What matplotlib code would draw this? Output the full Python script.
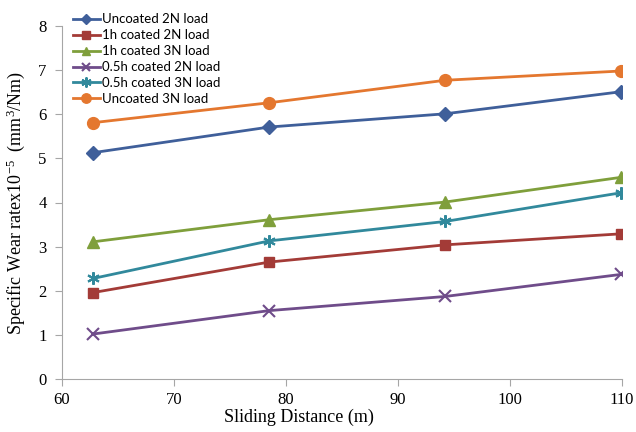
import matplotlib
matplotlib.use('Agg')
import matplotlib.pyplot as plt

# Sliding distance (m) and specific wear rate x10^-5 (mm^3/Nm)
distance = [62.8, 78.5, 94.2, 109.9]
uncoated_2n = [5.13, 5.71, 6.01, 6.51]
coated1h_2n = [1.96, 2.65, 3.04, 3.29]
coated1h_3n = [3.11, 3.61, 4.01, 4.57]
coated05h_2n = [1.02, 1.55, 1.87, 2.37]
coated05h_3n = [2.28, 3.13, 3.57, 4.22]
uncoated_3n = [5.81, 6.26, 6.77, 6.98]

series = [
    ('Uncoated 2N load', uncoated_2n, '#3F5F9A', 'D', 7),
    ('1h coated 2N load', coated1h_2n, '#A33B37', 's', 7.5),
    ('1h coated 3N load', coated1h_3n, '#7F9F3B', '^', 8),
    ('0.5h coated 2N load', coated05h_2n, '#6F4C8A', 'x', 8),
    ('0.5h coated 3N load', coated05h_3n, '#31899C', (6, 2, 0), 9),
    ('Uncoated 3N load', uncoated_3n, '#E4772F', 'o', 8.5),
]

plt.rcParams['mathtext.fontset'] = 'custom'
plt.rcParams['mathtext.rm'] = 'Liberation Serif'
plt.rcParams['mathtext.it'] = 'Liberation Serif:italic'

fig = plt.figure(figsize=(6.36, 4.32), dpi=100)
ax = fig.add_axes([62 / 636, 1 - 379 / 432, 560 / 636, 353 / 432])

for label, vals, color, marker, ms in series:
    ax.plot(distance, vals, color=color, marker=marker, markersize=ms,
            linewidth=2, markeredgewidth=1.5 if marker in ('x', (6, 2, 0)) else 1,
            label=label)

ax.set_xlim(60, 110)
ax.set_ylim(0, 8)
ax.set_xticks(range(60, 111, 10))
ax.set_yticks(range(0, 9))

for side in ('top', 'right'):
    ax.spines[side].set_visible(False)
for side in ('left', 'bottom'):
    ax.spines[side].set_color('#A6A6A6')
ax.tick_params(direction='out', length=5, color='#A6A6A6', labelsize=12)
ax.tick_params(axis='x', pad=4)
ax.tick_params(axis='y', pad=6)
for t in ax.get_xticklabels() + ax.get_yticklabels():
    t.set_fontfamily('Liberation Serif')

ax.set_xlabel('Sliding Distance (m)', fontsize=13, fontfamily='Liberation Serif', labelpad=1)
ax.xaxis.set_label_coords(0.423, -0.085)
ax.set_ylabel(r'Specific Wear ratex10$^{-5}$  (mm$^{3}$/Nm)', fontsize=13,
              fontfamily='Liberation Serif', labelpad=8)

# legend markers drawn a little smaller than on the lines
leg = fig.legend(loc='upper left', bbox_to_anchor=(68 / 636, 1 - 8 / 432),
                 frameon=False, prop={'family': 'Lato', 'size': 9.5},
                 handlelength=2.0, labelspacing=0.3, handletextpad=0.15,
                 borderaxespad=0, markerscale=0.8)

fig.savefig('out.png', dpi=100)
